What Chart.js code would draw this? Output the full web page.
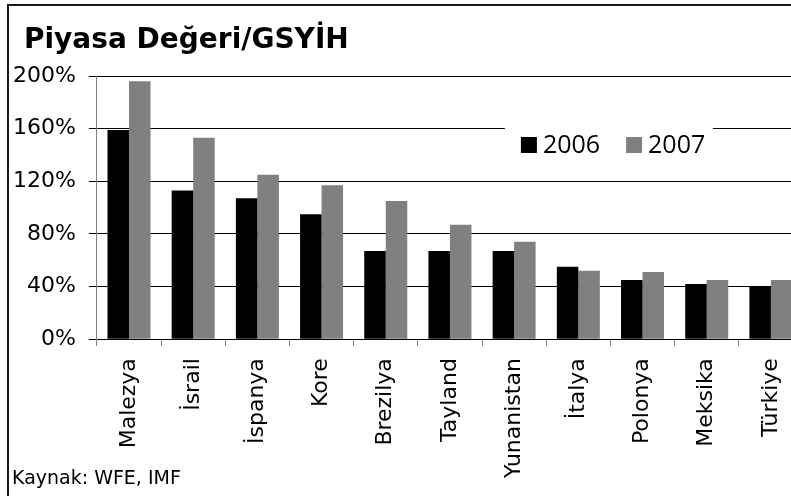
<!DOCTYPE html>
<html>
<head>
<meta charset="utf-8">
<script src="https://cdn.jsdelivr.net/npm/chart.js@4.4.1/dist/chart.umd.min.js"></script>
<style>
    html, body { margin: 0; padding: 0; background: #fff; }
    #wrap { width: 791px; height: 496px; overflow: hidden; }
    #chart { display: block; }
</style>
</head>
<body>
<div id="wrap"><canvas id="chart" width="812" height="496"></canvas></div>
<script>
const countries = ['Malezya', 'İsrail', 'İspanya', 'Kore', 'Brezilya', 'Tayland', 'Yunanistan', 'İtalya', 'Polonya', 'Meksika', 'Türkiye'];
const values2006 = [159, 113, 107, 95, 67, 67, 67, 55, 45, 42, 40];
const values2007 = [196, 153, 125, 117, 105, 87, 74, 52, 51, 45, 45];
const seriesNames = ['2006', '2007'];
const yTickValues = [0, 40, 80, 120, 160, 200];
const titleText = 'Piyasa Değeri/GSYİH';
const sourceText = 'Kaynak: WFE, IMF';

// frame, title, source line and the in-chart legend
const decorations = {
    id: 'decorations',
    beforeDraw(chart) {
        const ctx = chart.ctx;
        ctx.save();
        ctx.fillStyle = '#fff';
        ctx.fillRect(0, 0, chart.width, chart.height);
        ctx.strokeStyle = '#1a1a1a';
        ctx.lineWidth = 2;
        ctx.beginPath();
        ctx.moveTo(8, chart.height);
        ctx.lineTo(8, 5);
        ctx.lineTo(chart.width, 5);
        ctx.stroke();

        ctx.fillStyle = '#000';
        ctx.textBaseline = 'alphabetic';
        ctx.font = 'bold 28px "DejaVu Sans"';
        ctx.fillText(titleText, 24, 48);
        ctx.font = '19px "DejaVu Sans"';
        ctx.fillText(sourceText, 12, 484);
        ctx.restore();
    },
    afterDatasetsDraw(chart) {
        const ctx = chart.ctx;
        const area = chart.chartArea;
        const x0 = area.left + 408;
        const top = area.top + 36;
        ctx.save();
        ctx.fillStyle = '#fff';
        ctx.fillRect(x0, top, 208, 62);

        let x = x0 + 16;
        ctx.font = '25px "Open Sans"';
        ctx.textBaseline = 'alphabetic';
        chart.data.datasets.forEach(ds => {
            ctx.fillStyle = ds.backgroundColor;
            ctx.fillRect(x, top + 25, 16, 16);
            ctx.fillStyle = '#000';
            ctx.fillText(ds.label, x + 22, top + 41);
            x += 22 + ctx.measureText(ds.label).width + 26;
        });
        ctx.restore();
    }
};

new Chart(document.getElementById('chart'), {
    type: 'bar',
    data: {
        labels: countries,
        datasets: [{
            label: seriesNames[0],
            data: values2006,
            backgroundColor: '#000000',
            borderWidth: 0,
            barPercentage: 1,
            categoryPercentage: 0.67
        }, {
            label: seriesNames[1],
            data: values2007,
            backgroundColor: '#808080',
            borderWidth: 0,
            barPercentage: 1,
            categoryPercentage: 0.67
        }]
    },
    options: {
        responsive: false,
        animation: false,
        layout: {
            padding: { top: 76, left: 0, right: 9, bottom: 6 }
        },
        plugins: {
            legend: { display: false },
            title: { display: false },
            tooltip: { enabled: false }
        },
        scales: {
            x: {
                grid: {
                    drawOnChartArea: false,
                    drawTicks: true,
                    tickLength: 7,
                    color: '#808080'
                },
                border: { color: '#000', width: 1 },
                ticks: {
                    autoSkip: false,
                    minRotation: 90,
                    maxRotation: 90,
                    padding: 12,
                    color: '#000',
                    font: { family: 'DejaVu Sans', size: 22 }
                }
            },
            y: {
                min: yTickValues[0],
                max: yTickValues[yTickValues.length - 1],
                afterBuildTicks(scale) {
                    scale.ticks = yTickValues.map(v => ({ value: v }));
                },
                grid: {
                    color: '#000',
                    tickColor: '#000',
                    tickLength: 8,
                    lineWidth: 1
                },
                border: { color: '#808080', width: 1 },
                ticks: {
                    padding: 13,
                    color: '#000',
                    font: { family: 'DejaVu Sans', size: 22 },
                    callback: v => v + '%'
                }
            }
        }
    },
    plugins: [decorations]
});
</script>
</body>
</html>
